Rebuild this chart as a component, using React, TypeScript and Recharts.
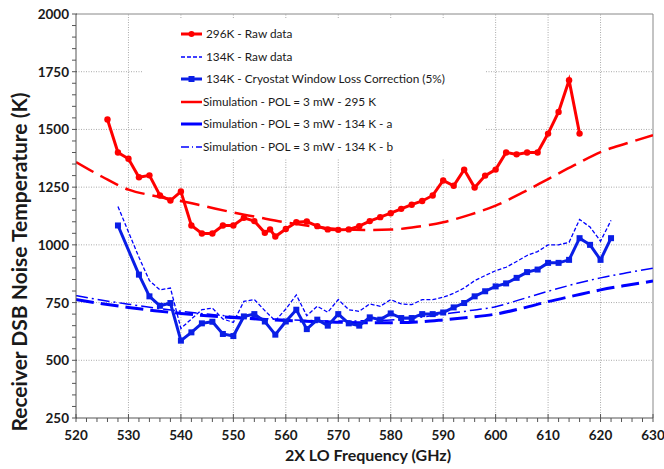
import React from 'react';
import { ComposedChart, Line, XAxis, YAxis, ReferenceLine } from 'recharts';

const FONT = 'Lato, "Open Sans", sans-serif';
const RED = '#ff0000';
const BLUE = '#0000ff';
const BLUE_DARK = '#0a1ee6';

// 296 K raw measurement
const freq296 = [526, 528, 530, 532, 534, 536, 538, 540, 542, 544, 546, 548, 550, 552, 554, 556, 557, 558,
  560, 562, 564, 566, 568, 570, 572, 574, 576, 578, 580, 582, 584, 586, 588, 590, 592, 594, 596, 598, 600,
  602, 604, 606, 608, 610, 612, 614, 616];
const raw296 = [1543, 1400, 1373, 1293, 1301, 1214, 1192, 1231, 1084, 1049, 1049, 1084, 1084, 1117, 1103, 1052, 1067, 1036,
  1069, 1098, 1101, 1081, 1067, 1065, 1067, 1081, 1103, 1120, 1137, 1156, 1174, 1190, 1214, 1279, 1256, 1326, 1248, 1300, 1326,
  1400, 1392, 1400, 1400, 1482, 1576, 1713, 1482];

// 134 K measurements
const freq134 = [528, 532, 534, 536, 538, 540, 542, 544, 546, 548, 550, 552, 554, 556, 558, 560, 562, 564, 566, 568,
  570, 572, 574, 576, 578, 580, 582, 584, 586, 588, 590, 592, 594, 596, 598, 600, 602, 604, 606, 608, 610, 612,
  614, 616, 618, 620, 622];
const raw134 = [1166, 946, 845, 805, 813, 638, 679, 719, 726, 679, 664, 755, 763, 715, 671, 722, 783, 693, 734, 708,
  763, 719, 712, 744, 734, 763, 744, 741, 763, 763, 773, 790, 813, 845, 867, 888, 903, 928, 954, 971, 1000, 1000,
  1011, 1110, 1077, 1016, 1106];
const corr134 = [1084, 871, 777, 736, 748, 585, 621, 660, 667, 614, 605, 690, 700, 668, 611, 668, 719, 635, 676, 650,
  700, 660, 650, 686, 676, 703, 683, 683, 700, 700, 707, 729, 748, 777, 799, 820, 833, 857, 882, 893, 922, 922,
  935, 1029, 1000, 935, 1029];

// simulations
const freqSim = [520, 525, 530, 535, 540, 545, 550, 555, 560, 565, 570, 575, 580, 585, 590, 595, 600, 605, 610, 615, 620, 625, 630];
const sim295 = [1359, 1295, 1239, 1212, 1190, 1165, 1140, 1118, 1097, 1080, 1068, 1064, 1066, 1078, 1098, 1130, 1170, 1225, 1285, 1345, 1402, 1440, 1475];
const sim134a = [763, 745, 729, 715, 703, 693, 685, 678, 672, 668, 665, 663, 663, 666, 675, 686, 700, 725, 754, 780, 805, 825, 843];
const sim134b = [780, 760, 743, 727, 712, 700, 690, 682, 676, 672, 670, 671, 675, 685, 700, 715, 732, 765, 799, 830, 857, 879, 899];

const xTicks = Array.from({ length: 56 }, (_, i) => 520 + i * 2);
const yTicks = Array.from({ length: 36 }, (_, i) => 250 + i * 50);
const xGrid = [530, 540, 550, 560, 570, 580, 590, 600, 610, 620];
const yGrid = [500, 750, 1000, 1250, 1500, 1750];

const toRows = (fs: number[], vs: number[]) => fs.map((f, i) => ({ f, v: vs[i] }));

const XTick = (props: any) => {
  const { x, y, payload } = props;
  const v = payload.value;
  const major = v % 10 === 0;
  return (
    <g>
      <line x1={x} x2={x} y1={major ? y - 4 : y} y2={y + 4} stroke="#555" />
      {major && (
        <text x={x} y={y + 22} textAnchor="middle" fontFamily={FONT} fontWeight="bold" fontSize={13.5} fill="#1a1a1a">
          {v}
        </text>
      )}
    </g>
  );
};

const YTick = (props: any) => {
  const { x, y, payload } = props;
  const v = payload.value;
  const major = v % 250 === 0;
  return (
    <g>
      <line x1={x - 4} x2={major ? x + 1 : x} y1={y} y2={y} stroke="#555" />
      {major && (
        <text x={x - 7} y={y + 5} textAnchor="end" fontFamily={FONT} fontWeight="bold" fontSize={13.5} fill="#1a1a1a">
          {v}
        </text>
      )}
    </g>
  );
};

const SquareDot = (props: any) => {
  const { cx, cy } = props;
  if (cx == null || cy == null) return null;
  return <rect x={cx - 3} y={cy - 3} width={6} height={6} fill={BLUE_DARK} />;
};

const legendItems = [
  { label: '296K - Raw data', color: RED, width: 3, dash: undefined, marker: 'circle', tx: 206 },
  { label: '134K - Raw data', color: BLUE, width: 1.3, dash: '4 2', marker: null, tx: 206 },
  { label: '134K - Cryostat Window Loss Correction (5%)', color: BLUE_DARK, width: 3, dash: undefined, marker: 'square', tx: 206 },
  { label: 'Simulation - POL = 3 mW - 295 K', color: RED, width: 2.5, dash: undefined, marker: null, tx: 203 },
  { label: 'Simulation - POL = 3 mW - 134 K - a', color: BLUE, width: 3, dash: undefined, marker: null, tx: 203 },
  { label: 'Simulation - POL = 3 mW - 134 K - b', color: BLUE, width: 1.5, dash: '8 3 1 3', marker: null, tx: 203 },
];

const ChartLegend = () => (
  <div style={{ position: 'absolute', left: 143, top: 18, width: 342, height: 140, background: '#fff' }}>
    {legendItems.map((it, i) => {
      const cy = 16 + i * 22.5;
      return (
        <div key={i} style={{ position: 'absolute', left: 0, top: cy - 9, height: 18, width: 342 }}>
          <svg width={24} height={18} style={{ position: 'absolute', left: 37, top: 0 }}>
            <line x1={1} x2={22} y1={9} y2={9} stroke={it.color} strokeWidth={it.width} strokeDasharray={it.dash} />
            {it.marker === 'circle' && <circle cx={11.5} cy={9} r={3} fill={it.color} />}
            {it.marker === 'square' && <rect x={8.5} y={6} width={6} height={6} fill={it.color} />}
          </svg>
          <span
            style={{
              position: 'absolute',
              left: it.tx - 143,
              top: 0,
              lineHeight: '18px',
              fontFamily: FONT,
              fontSize: 11.8,
              color: '#1a1a1a',
              whiteSpace: 'nowrap',
            }}
          >
            {it.label}
          </span>
        </div>
      );
    })}
  </div>
);

const App: React.FC = () => {
  return (
    <div style={{ position: 'absolute', left: 0, top: 0, width: 664, height: 469, background: '#fff' }}>
      <ComposedChart width={664} height={469} margin={{ top: 14, right: 11, bottom: 0, left: 0 }}>
        <XAxis
          dataKey="f"
          type="number"
          domain={[520, 630]}
          ticks={xTicks}
          interval={0}
          tickSize={0}
          tickMargin={0}
          tickLine={false}
          tick={<XTick />}
          axisLine={{ stroke: '#555' }}
          height={51}
          allowDataOverflow
        />
        <YAxis
          type="number"
          domain={[250, 2000]}
          ticks={yTicks}
          interval={0}
          tickSize={0}
          tickMargin={0}
          tickLine={false}
          tick={<YTick />}
          axisLine={{ stroke: '#555' }}
          width={76}
          allowDataOverflow
        />
        {xGrid.map((g) => (
          <ReferenceLine key={'x' + g} x={g} stroke="#aaa" strokeDasharray="1 1.5" />
        ))}
        {yGrid.map((g) => (
          <ReferenceLine key={'y' + g} y={g} stroke="#aaa" strokeDasharray="1 1.5" />
        ))}
        <ReferenceLine y={2000} stroke="#888" />
        <ReferenceLine x={630} stroke="#888" />

        <Line data={toRows(freqSim, sim295)} dataKey="v" type="monotone" stroke={RED} strokeWidth={2.5}
          strokeDasharray="20 8" dot={false} isAnimationActive={false} />
        <Line data={toRows(freqSim, sim134a)} dataKey="v" type="monotone" stroke={BLUE} strokeWidth={3}
          strokeDasharray="18 7" dot={false} isAnimationActive={false} />
        <Line data={toRows(freqSim, sim134b)} dataKey="v" type="monotone" stroke={BLUE} strokeWidth={1.5}
          strokeDasharray="12 4 2 4" dot={false} isAnimationActive={false} />
        <Line data={toRows(freq134, raw134)} dataKey="v" stroke={BLUE} strokeWidth={1.3}
          strokeDasharray="4 2" dot={false} isAnimationActive={false} />
        <Line data={toRows(freq134, corr134)} dataKey="v" stroke={BLUE_DARK} strokeWidth={3}
          dot={<SquareDot />} isAnimationActive={false} />
        <Line data={toRows(freq296, raw296)} dataKey="v" stroke={RED} strokeWidth={3}
          dot={{ r: 3.2, fill: RED, stroke: RED, strokeWidth: 0 }} isAnimationActive={false} />

        <text x={368} y={461} textAnchor="middle" fontFamily={FONT} fontWeight="bold" fontSize={16} fill="#1a1a1a">
          2X LO Frequency (GHz)
        </text>
        <text x={27} y={262} transform="rotate(-90 27 262)" textAnchor="middle" fontFamily={FONT} fontWeight="bold"
          fontSize={21} fill="#1a1a1a">
          Receiver DSB Noise Temperature (K)
        </text>
      </ComposedChart>
      <ChartLegend />
    </div>
  );
};

export default App;
